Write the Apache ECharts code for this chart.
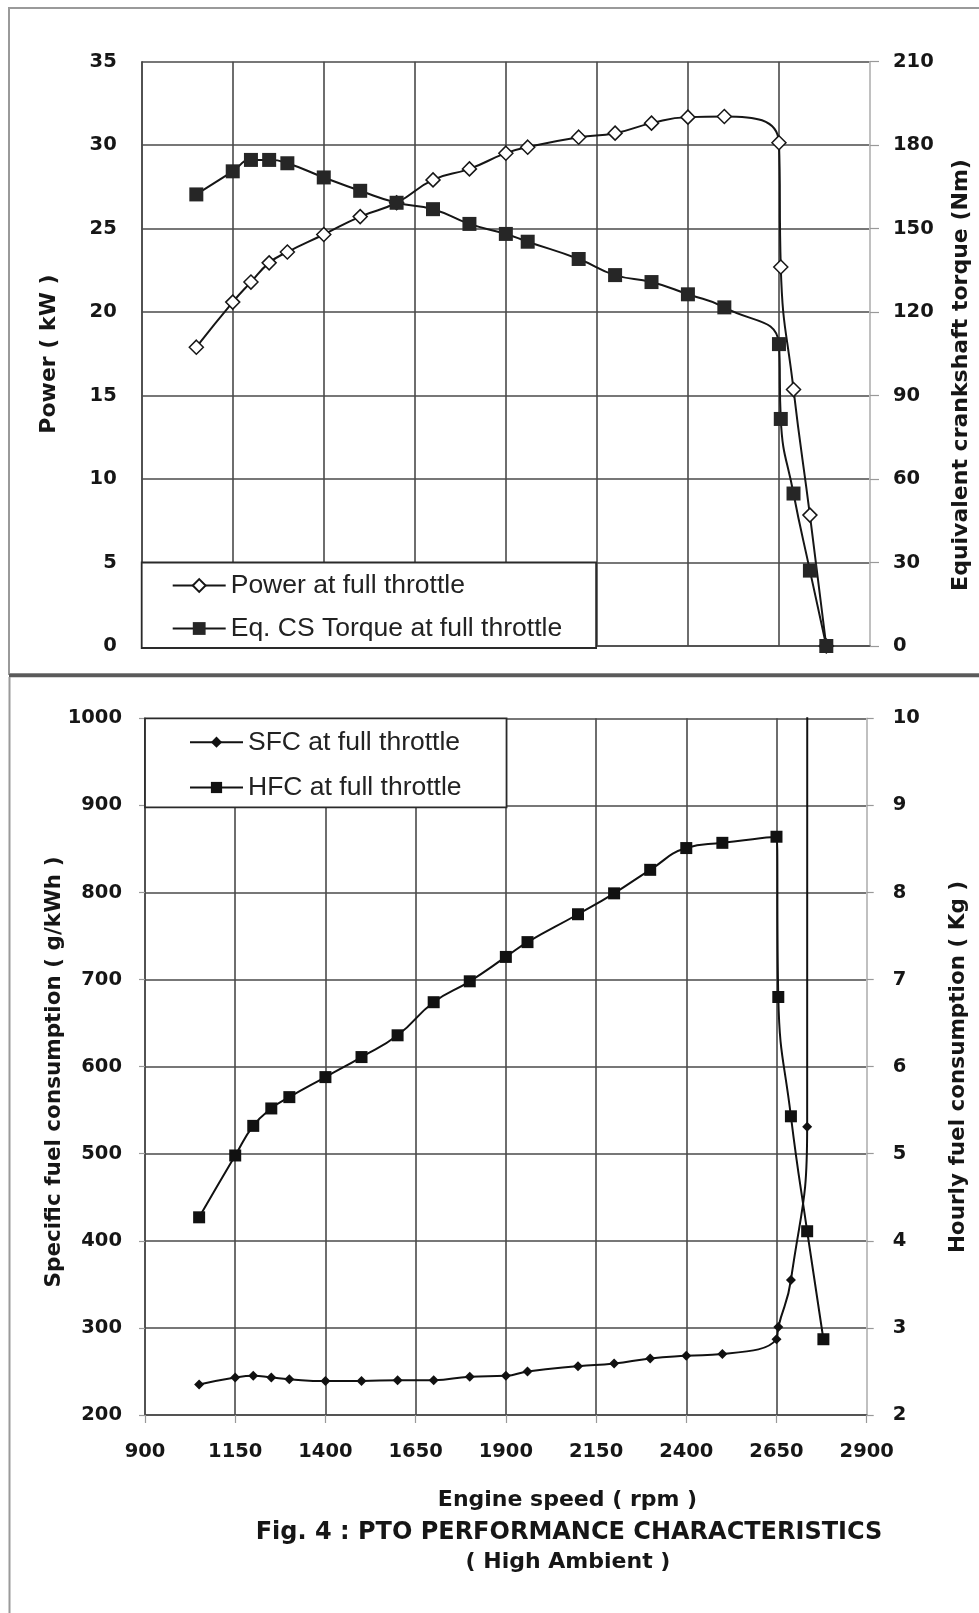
<!DOCTYPE html>
<html><head><meta charset="utf-8">
<script src="https://cdn.jsdelivr.net/npm/echarts@6/dist/echarts.min.js"></script>
<style>html,body{margin:0;padding:0;background:#fff}#c{width:979px;height:1613px}</style>
</head><body><div id="c"></div>
<script>
// ---- data ----
const rpm = [1050,1150,1200,1250,1300,1400,1500,1600,1700,1800,1900,1960,2100,2200,2300,2400,2500,2650,2655,2690,2735,2780];
const powerKW = [17.9,20.6,21.8,22.95,23.6,24.65,25.72,26.55,27.92,28.58,29.52,29.88,30.48,30.72,31.32,31.68,31.72,30.15,22.7,15.36,7.84,0];
const torqueNm = [162.3,170.6,174.7,174.7,173.5,168.4,163.6,159.3,157.0,151.7,148.1,145.3,139.1,133.3,130.8,126.4,121.7,108.5,81.6,54.8,27.1,0];
const sfcGkWh = [235,243,245,243,241,239,239,240,240,244,245,250,256,259,265,268,270,287,301,355,531,100000];
const hfcKg = [4.27,4.98,5.32,5.52,5.65,5.88,6.11,6.36,6.74,6.98,7.26,7.43,7.75,7.99,8.26,8.51,8.57,8.64,6.80,5.43,4.11,2.87];
const rpmAxis = [900, 2900, 250];
const powerAxis = [0, 35, 5];
const torqueAxis = [0, 210, 30];
const sfcAxis = [200, 1000, 100];
const hfcAxis = [2, 10, 1];
const legendTop = ['Power at full throttle', 'Eq. CS Torque at full throttle'];
const legendBottom = ['SFC at full throttle', 'HFC at full throttle'];

const pair = (ys) => rpm.map((r, i) => [r, ys[i]]);
const BOLD = 'DejaVu Sans';
const GRID = '#4a4a4a';
const TXT = '#161616';
const plain = (v) => String(v);
const nX = Math.round((rpmAxis[1] - rpmAxis[0]) / rpmAxis[2]) + 1;
const xSplitColors = Array.from({length: nX}, (_, i) => i === nX - 1 ? '#bdbdbd' : GRID);
const lab = (margin) => ({margin: margin, fontSize: 19.5, fontWeight: 'bold', fontFamily: BOLD, color: TXT, formatter: plain});

function xAxisDef(gi, showLabels) {
  return {
    type: 'value', gridIndex: gi, min: rpmAxis[0], max: rpmAxis[1], interval: rpmAxis[2],
    axisLine: {show: true, onZero: false, lineStyle: {color: GRID, width: 1.5}},
    axisTick: {show: showLabels, length: 8, lineStyle: {color: '#999', width: 1.2}},
    axisLabel: Object.assign(lab(27), {show: showLabels}),
    splitLine: {show: true, lineStyle: {color: xSplitColors, width: 1.6}}
  };
}
function yAxisDef(gi, pos, ax, margin, tickLen) {
  return {
    type: 'value', gridIndex: gi, position: pos, min: ax[0], max: ax[1], interval: ax[2],
    axisLine: {show: true, onZero: false, lineStyle: {color: pos === 'left' ? GRID : '#bdbdbd', width: 1.5}},
    axisTick: {show: tickLen > 0, length: tickLen, lineStyle: {color: '#999', width: 1.2}},
    axisLabel: lab(margin),
    splitLine: {show: pos === 'left', lineStyle: {color: GRID, width: 1.6}}
  };
}

const chart = echarts.init(document.getElementById('c'), null, {renderer: 'canvas'});
const titleFont = {fontFamily: BOLD, fontWeight: 'bold', fill: TXT, align: 'center', verticalAlign: 'middle'};
const legendText = {fontFamily: 'Liberation Sans', fontSize: 26.5, color: '#222'};

chart.setOption({
  animation: false,
  backgroundColor: '#fff',
  grid: [
    {left: 141.7, top: 61.7, width: 728.3, height: 584.3},
    {left: 145, top: 718.3, width: 721.7, height: 696.7}
  ],
  xAxis: [xAxisDef(0, false), xAxisDef(1, true)],
  yAxis: [
    yAxisDef(0, 'left', powerAxis, 25, 0),
    yAxisDef(0, 'right', torqueAxis, 23, 9),
    yAxisDef(1, 'left', sfcAxis, 23, 6),
    yAxisDef(1, 'right', hfcAxis, 26, 7)
  ],
  legend: [
    {data: legendTop, orient: 'vertical', left: 141.7, top: 562.5, padding: [9.5, 34, 6, 30],
     itemGap: 16, itemWidth: 53, itemHeight: 16, backgroundColor: '#fff', borderColor: '#2a2a2a', borderWidth: 1.8,
     selectedMode: false, textStyle: legendText},
    {data: legendBottom, orient: 'vertical', left: 145, top: 718.3, padding: [10.4, 45, 6.4, 44],
     itemGap: 18.3, itemWidth: 53, itemHeight: 14, backgroundColor: '#fff', borderColor: '#2a2a2a', borderWidth: 1.8,
     selectedMode: false, textStyle: legendText}
  ],
  series: [
    {name: legendTop[0], type: 'line', xAxisIndex: 0, yAxisIndex: 0, data: pair(powerKW), smooth: 0.5,
     symbol: 'diamond', symbolSize: 14, lineStyle: {color: '#161616', width: 2},
     itemStyle: {color: '#fff', borderColor: '#161616', borderWidth: 1.5}, z: 3},
    {name: legendTop[1], type: 'line', xAxisIndex: 0, yAxisIndex: 1, data: pair(torqueNm), smooth: 0.5,
     symbol: 'rect', symbolSize: 14, lineStyle: {color: '#161616', width: 2},
     itemStyle: {color: '#262626'}, z: 4},
    {name: legendBottom[0], type: 'line', xAxisIndex: 1, yAxisIndex: 2, data: pair(sfcGkWh), smooth: 0.5,
     symbol: 'diamond', symbolSize: 10, lineStyle: {color: '#111', width: 2},
     itemStyle: {color: '#111'}, z: 3},
    {name: legendBottom[1], type: 'line', xAxisIndex: 1, yAxisIndex: 3, data: pair(hfcKg), smooth: 0.5,
     symbol: 'rect', symbolSize: 12, lineStyle: {color: '#111', width: 2},
     itemStyle: {color: '#111'}, z: 4}
  ],
  graphic: [
    {type: 'rect', z: -10, silent: true, shape: {x: 9, y: 8, width: 975, height: 666},
     style: {fill: null, stroke: '#9a9a9a', lineWidth: 2}},
    {type: 'line', z: -9, silent: true, shape: {x1: 9, y1: 675.5, x2: 979, y2: 675.5},
     style: {stroke: '#5a5a5a', lineWidth: 3.5}},
    {type: 'line', z: -9, silent: true, shape: {x1: 9.5, y1: 677, x2: 9.5, y2: 1613},
     style: {stroke: '#9a9a9a', lineWidth: 2}},
    {type: 'text', x: 49, y: 354, rotation: Math.PI / 2,
     style: Object.assign({text: 'Power ( kW )', fontSize: 22}, titleFont)},
    {type: 'text', x: 961, y: 375, rotation: Math.PI / 2,
     style: Object.assign({text: 'Equivalent crankshaft torque (Nm)', fontSize: 22}, titleFont)},
    {type: 'text', x: 54, y: 1072, rotation: Math.PI / 2,
     style: Object.assign({text: 'Specific fuel consumption ( g/kWh )', fontSize: 21.5}, titleFont)},
    {type: 'text', x: 958, y: 1067, rotation: Math.PI / 2,
     style: Object.assign({text: 'Hourly fuel consumption ( Kg )', fontSize: 21.5}, titleFont)},
    {type: 'text', x: 567.5, y: 1500.7,
     style: Object.assign({text: 'Engine speed ( rpm )', fontSize: 22}, titleFont)},
    {type: 'text', x: 569, y: 1533,
     style: Object.assign({text: 'Fig. 4 : PTO PERFORMANCE CHARACTERISTICS', fontSize: 24}, titleFont)},
    {type: 'text', x: 568, y: 1562,
     style: Object.assign({text: '( High Ambient )', fontSize: 22}, titleFont)}
  ]
});
</script></body></html>
